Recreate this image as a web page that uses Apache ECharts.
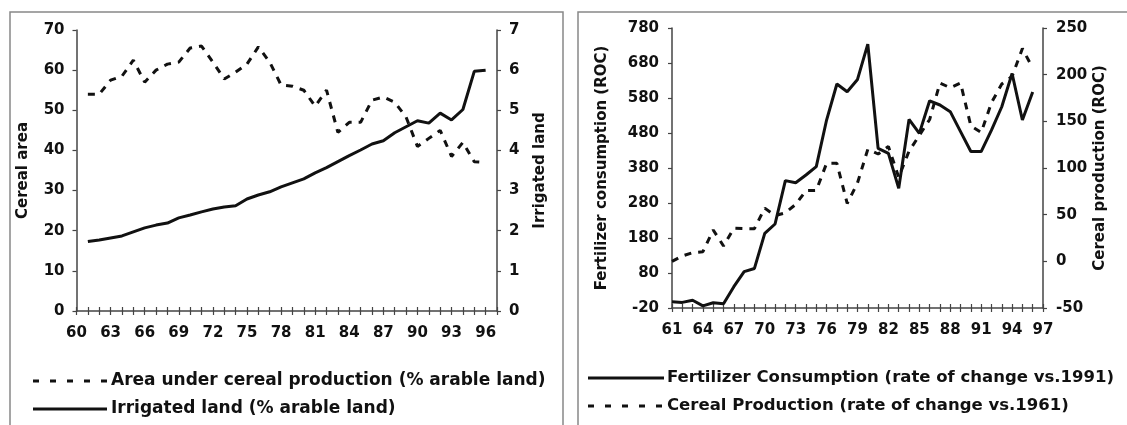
<!DOCTYPE html>
<html><head><meta charset="utf-8">
<script src="https://cdn.jsdelivr.net/npm/echarts@6/dist/echarts.min.js"></script>
<style>html,body{margin:0;padding:0;background:#fff}#c{width:1127px;height:425px}</style>
</head><body><div id="c"></div>
<script>
// ---- Left panel data (years 1960-1997, values for 1961-1996) ----
const leftYears = ['60','61','62','63','64','65','66','67','68','69','70','71','72','73','74','75','76','77','78','79','80','81','82','83','84','85','86','87','88','89','90','91','92','93','94','95','96','97'];
const areaCereal = [null,54,54,57.5,58.5,62.5,57,60,61.5,62,65.5,66,62,57.8,59.5,61.5,65.8,62,56.3,56,55,51,55,44.5,47,47,52.5,53.3,52,48.3,41,43,45,38.5,42,37.2,37,null];
const irrigated = [null,1.73,1.77,1.82,1.87,1.97,2.07,2.14,2.19,2.32,2.39,2.47,2.54,2.59,2.62,2.79,2.89,2.97,3.09,3.19,3.29,3.44,3.57,3.72,3.87,4.01,4.16,4.24,4.44,4.59,4.74,4.68,4.93,4.76,5.02,5.97,6.0,null];

// ---- Right panel data (years 1961-1997, values for 1961-1996) ----
const rightYears = ['61','62','63','64','65','66','67','68','69','70','71','72','73','74','75','76','77','78','79','80','81','82','83','84','85','86','87','88','89','90','91','92','93','94','95','96','97'];
const fertilizer = [-2,-4,2,-14,-5,-8,41,84,93,193,220,344,338,360,384,517,620,598,633,734,436,422,322,519,479,572,560,541,484,427,427,488,555,650,517,597,null];
const cerealProd = [0,5.7,9.3,10.3,33.6,16.4,35.4,35,35,57,49,52,61,75.7,76,105,105,62,84,120,115,123,90,118,135,152,191,186,191,145,138,170,190,198,228,207,null];

const names = {
  area: 'Area under cereal production (% arable land)',
  irr: 'Irrigated land (% arable land)',
  fert: 'Fertilizer Consumption (rate of change vs.1991)',
  cer: 'Cereal Production (rate of change vs.1961)'
};

const FONT = 'DejaVu Sans';
const INK = '#111';
const AX = '#444';
const lbl = {fontFamily: FONT, fontWeight: 'bold', fontSize: 15, color: INK};
const nameStyle = {fontFamily: FONT, fontWeight: 'bold', fontSize: 15, color: INK};
const dash = [7, 7];

function catAxis(grid, data, inside, showLabels) {
  return {
    type: 'category', gridIndex: grid, data: data, boundaryGap: false, position: 'bottom',
    axisLine: {show: !inside, onZero: false, lineStyle: {color: AX, width: 1.5}},
    axisTick: {show: true, inside: inside, interval: 0, length: 4, lineStyle: {color: AX, width: 1.2}},
    axisLabel: showLabels ? Object.assign({interval: 2, margin: 15}, lbl) : {show: false},
    splitLine: {show: false}
  };
}
function valAxis(grid, pos, min, max, interval, name, gap, margin) {
  return {
    type: 'value', gridIndex: grid, position: pos, min: min, max: max, interval: interval,
    name: name, nameLocation: 'middle', nameGap: gap, nameTextStyle: nameStyle,
    axisLine: {show: true, onZero: false, lineStyle: {color: AX, width: 1.5}},
    axisTick: {show: true, length: 4, lineStyle: {color: AX, width: 1.2}},
    axisLabel: Object.assign({margin: margin}, lbl),
    splitLine: {show: false}
  };
}

// legend drawn as graphic keys + text
function key(x1, x2, y, dashed, text, tx, size) {
  return [
    {type: 'line', silent: true, shape: {x1: x1, y1: y, x2: x2, y2: y},
     style: {stroke: INK, lineWidth: 3, lineDash: dashed ? [6, 11] : null}},
    {type: 'text', silent: true, x: tx, y: y,
     style: {text: text, fill: INK, fontFamily: FONT, fontWeight: 'bold', fontSize: size,
             verticalAlign: 'middle', align: 'left'}}
  ];
}

const chart = echarts.init(document.getElementById('c'), null, {renderer: 'canvas'});
chart.setOption({
  animation: false,
  backgroundColor: '#fff',
  grid: [
    {left: 76.5, top: 30, width: 420.5, height: 281},
    {left: 672, top: 28, width: 371, height: 280}
  ],
  xAxis: [
    catAxis(0, leftYears, false, true),
    catAxis(0, leftYears, true, false),
    catAxis(1, rightYears, false, true),
    catAxis(1, rightYears, true, false)
  ],
  yAxis: [
    valAxis(0, 'left', 0, 70, 10, 'Cereal area', 46, 12),
    valAxis(0, 'right', 0, 7, 1, 'Irrigated land', 36, 12),
    valAxis(1, 'left', -20, 780, 100, 'Fertilizer consumption (ROC)', 62, 13),
    valAxis(1, 'right', -50, 250, 50, 'Cereal production (ROC)', 50, 13)
  ],
  series: [
    {name: names.area, type: 'line', xAxisIndex: 0, yAxisIndex: 0, data: areaCereal, symbol: 'none',
     lineStyle: {color: INK, width: 3, type: dash}, itemStyle: {color: INK}},
    {name: names.irr, type: 'line', xAxisIndex: 0, yAxisIndex: 1, data: irrigated, symbol: 'none',
     lineStyle: {color: INK, width: 3}, itemStyle: {color: INK}},
    {name: names.fert, type: 'line', xAxisIndex: 2, yAxisIndex: 2, data: fertilizer, symbol: 'none',
     lineStyle: {color: INK, width: 3}, itemStyle: {color: INK}},
    {name: names.cer, type: 'line', xAxisIndex: 2, yAxisIndex: 3, data: cerealProd, symbol: 'none',
     lineStyle: {color: INK, width: 3, type: dash}, itemStyle: {color: INK}}
  ],
  graphic: [
    {type: 'rect', silent: true, shape: {x: 10, y: 12, width: 553, height: 440},
     style: {fill: null, stroke: '#888', lineWidth: 1.5}},
    {type: 'rect', silent: true, shape: {x: 578, y: 12, width: 560, height: 440},
     style: {fill: null, stroke: '#888', lineWidth: 1.5}}
  ].concat(
    key(33, 107, 381, true, names.area, 111, 17),
    key(33, 107, 409, false, names.irr, 111, 17),
    key(588, 664, 378, false, names.fert, 667, 16.5),
    key(588, 664, 406, true, names.cer, 667, 16.5)
  )
});
</script>
</body></html>
